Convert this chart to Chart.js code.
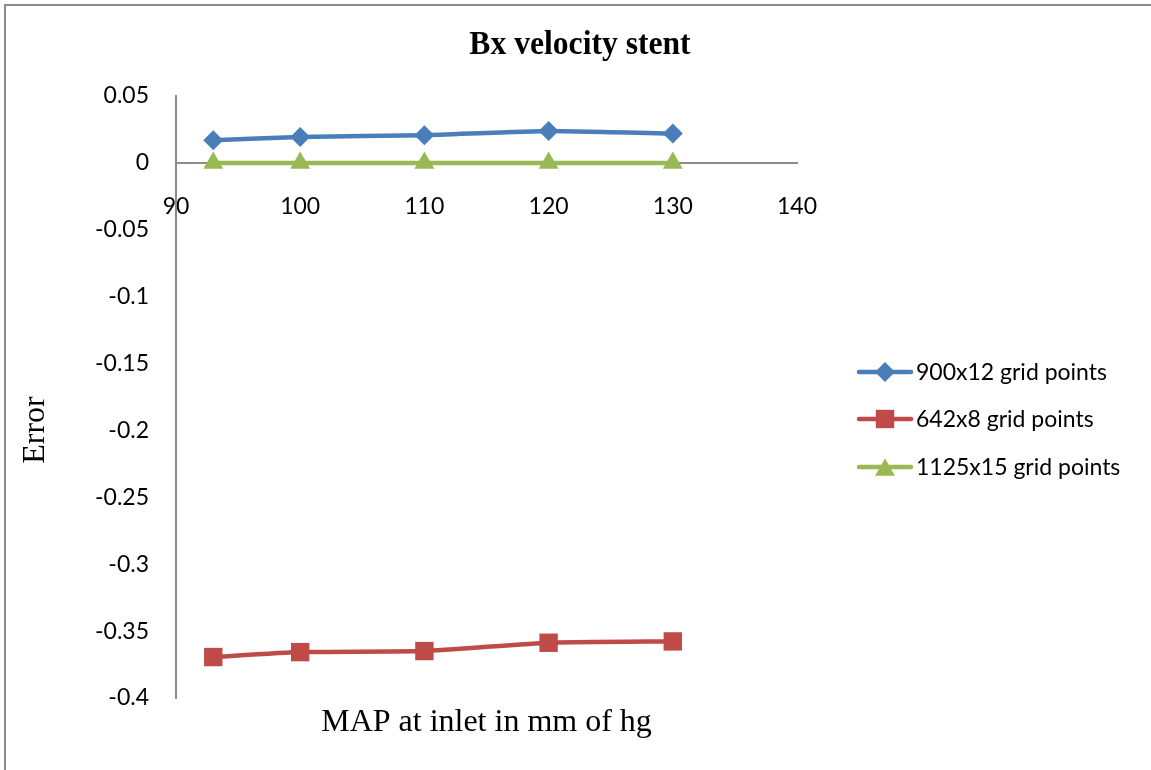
<!DOCTYPE html>
<html>
<head>
<meta charset="utf-8">
<title>Bx velocity stent</title>
<script src="https://cdn.jsdelivr.net/npm/chart.js@4/dist/chart.umd.min.js"></script>
<style>
    html, body { margin: 0; padding: 0; background: #fff; }
    #wrap { position: relative; width: 1151px; height: 770px; overflow: hidden; }
    #frame { position: absolute; left: 4px; top: 4px; right: 0; bottom: 0;
             border-top: 2px solid #8c8c8c; border-left: 2px solid #8c8c8c; }
    canvas { position: absolute; left: 0; top: 0; }
</style>
</head>
<body>
<div id="wrap">
    <div id="frame"></div>
    <canvas id="chart" width="1151" height="770"></canvas>
</div>
<script>
// MAP at inlet (mm of hg)
const mapValues = [93, 100, 110, 120, 130];

// Error for each grid resolution
const grid900x12 = [0.0169, 0.0194, 0.0207, 0.0239, 0.0219];
const grid642x8 = [-0.3694, -0.3657, -0.3649, -0.3587, -0.3577];
const grid1125x15 = [0, 0, 0, 0, 0];

const seriesNames = ['900x12 grid points', '642x8 grid points', '1125x15 grid points'];
const seriesColors = ['#4a7ebb', '#be4b48', '#98b954'];
const seriesMarkers = ['rectRot', 'rect', 'triangle'];
const markerSizes = [10, 13, 11.5];

const xTicks = [90, 100, 110, 120, 130, 140];
const yTicks = [0.05, 0, -0.05, -0.1, -0.15, -0.2, -0.25, -0.3, -0.35, -0.4];

const tickFont = { family: 'Lato, "Open Sans", sans-serif', size: 23 };
const serif = '"Liberation Serif", "Times New Roman", serif';

function toPoints(values) {
    return mapValues.map((x, i) => ({ x: x, y: values[i] }));
}

const datasets = [grid900x12, grid642x8, grid1125x15].map((vals, i) => ({
    label: seriesNames[i],
    data: toPoints(vals),
    borderColor: seriesColors[i],
    backgroundColor: seriesColors[i],
    borderWidth: 4.5,
    pointStyle: seriesMarkers[i],
    pointRadius: markerSizes[i],
    pointHoverRadius: markerSizes[i],
    pointBorderWidth: 0,
    tension: 0.15,
    fill: false
}));

// titles and the legend on the right are painted by hand
const decorations = {
    id: 'decorations',
    afterDraw(chart) {
        const ctx = chart.ctx;
        const area = chart.chartArea;
        ctx.save();
        ctx.fillStyle = '#000';
        ctx.textAlign = 'center';
        ctx.textBaseline = 'middle';

        ctx.save();
        ctx.translate(580, 45);
        ctx.scale(1.02, 1.1);
        ctx.font = 'bold 31px ' + serif;
        ctx.fillText('Bx velocity stent', 0, 0);
        ctx.restore();

        ctx.font = '32px ' + serif;
        ctx.fillText('MAP at inlet in mm of hg', (area.left + area.right) / 2, 723);

        ctx.save();
        ctx.translate(36, 430);
        ctx.rotate(-Math.PI / 2);
        ctx.fillText('Error', 0, 0);
        ctx.restore();

        // legend
        const rows = [372, 419, 467];
        ctx.textAlign = 'left';
        ctx.font = tickFont.size + 'px ' + tickFont.family;
        chart.data.datasets.forEach((ds, i) => {
            const y = rows[i];
            ctx.strokeStyle = ds.borderColor;
            ctx.lineWidth = ds.borderWidth;
            ctx.lineCap = 'round';
            ctx.beginPath();
            ctx.moveTo(859, y);
            ctx.lineTo(911, y);
            ctx.stroke();
            ctx.fillStyle = ds.backgroundColor;
            Chart.helpers.drawPoint(ctx, {
                pointStyle: ds.pointStyle,
                radius: ds.pointRadius,
                rotation: 0,
                borderWidth: 0
            }, 885, y + (ds.pointStyle === 'triangle' ? 3 : 0));
            ctx.fillStyle = '#000';
            ctx.fillText(ds.label, 916, y + 1);
        });
        ctx.restore();
    }
};

new Chart(document.getElementById('chart'), {
    type: 'line',
    data: { datasets: datasets },
    plugins: [decorations],
    options: {
        responsive: false,
        animation: false,
        layout: { padding: { left: 0, top: 96, right: 354, bottom: 72 } },
        plugins: {
            legend: { display: false },
            title: { display: false },
            tooltip: { enabled: false }
        },
        scales: {
            x: {
                type: 'linear',
                position: { y: 0 },
                min: 90,
                max: 140,
                afterBuildTicks: axis => { axis.ticks = xTicks.map(v => ({ value: v })); },
                ticks: { font: tickFont, color: '#000', padding: 30, maxRotation: 0 },
                grid: { drawOnChartArea: false, drawTicks: false },
                border: { display: true, color: '#8c8c8c', width: 2 }
            },
            y: {
                type: 'linear',
                min: -0.4,
                max: 0.05,
                afterBuildTicks: axis => { axis.ticks = yTicks.map(v => ({ value: v })); },
                afterFit: axis => { axis.width = 176; },
                ticks: {
                    font: tickFont,
                    color: '#000',
                    padding: 27,
                    callback: v => String(Math.round(v * 100) / 100)
                },
                grid: { drawOnChartArea: false, drawTicks: false },
                border: { display: true, color: '#8c8c8c', width: 2 }
            }
        }
    }
});
</script>
</body>
</html>
